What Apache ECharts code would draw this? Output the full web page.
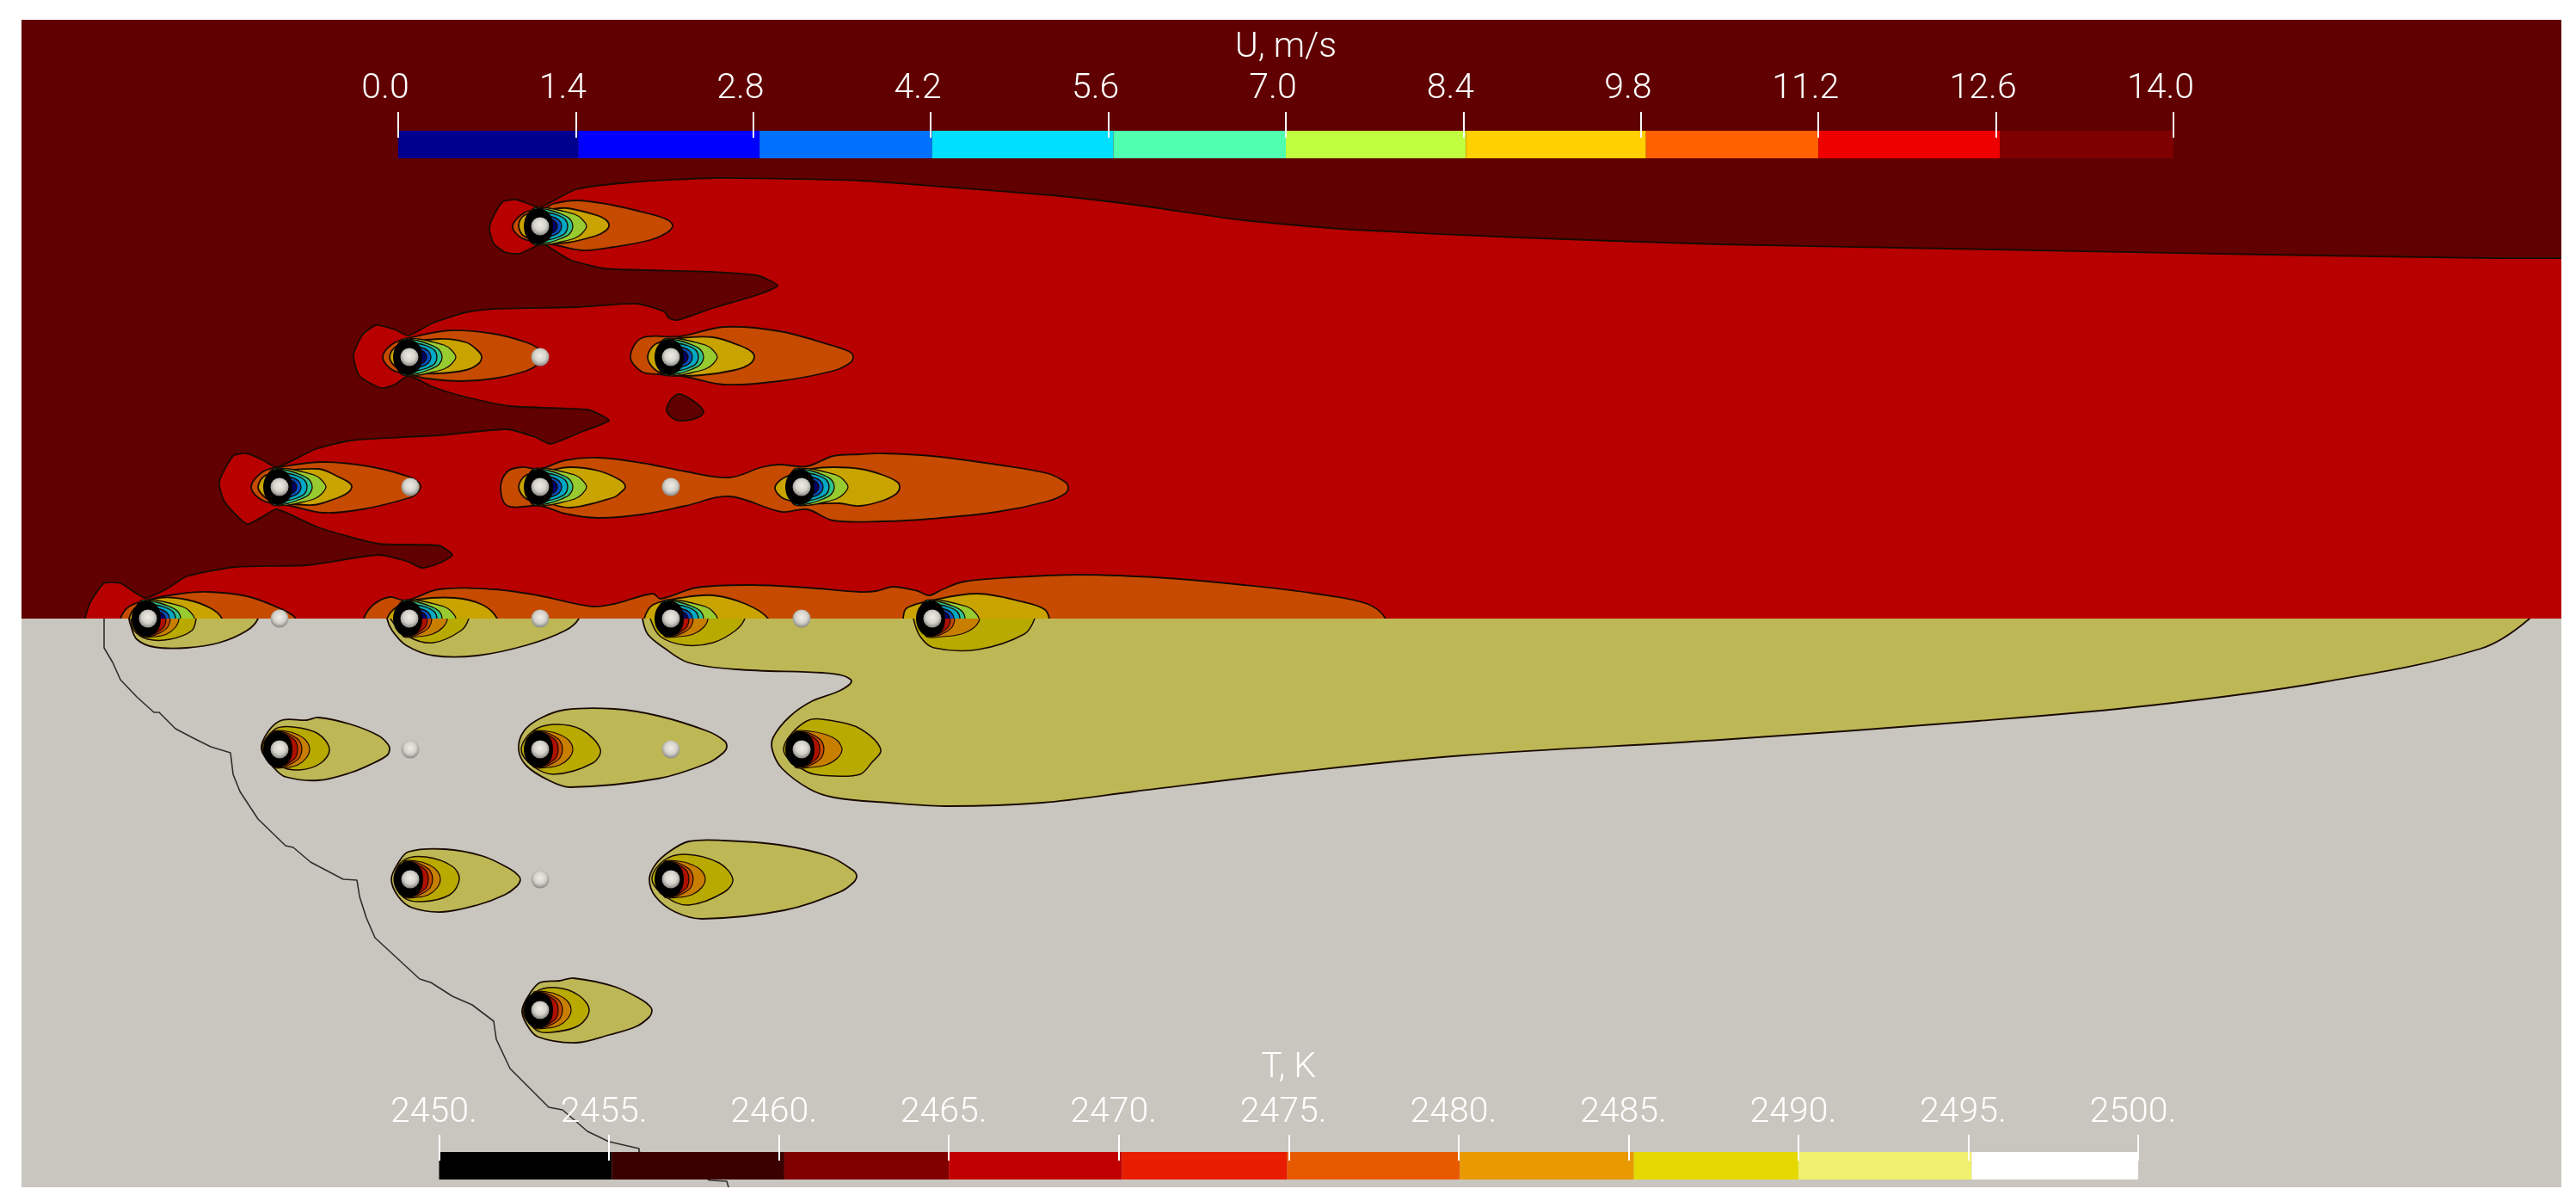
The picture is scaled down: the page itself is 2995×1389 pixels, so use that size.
<!DOCTYPE html>
<html lang="en">
<head>
<meta charset="UTF-8">
<title>U and T contours</title>
<style>html,body{margin:0;background:#fff}#chart{width:2995px;height:1389px}</style>
<script src="https://cdn.jsdelivr.net/npm/echarts@6/dist/echarts.min.js"></script>
</head>
<body>
<div id="chart"></div>
<script>
// colour bars
const uBreaks = [0, 1.42, 2.85, 4.21, 5.64, 7, 8.42, 9.84, 11.2, 12.63, 14];
const uBarColors = ['#00008f', '#0000ff', '#0070ff', '#00dfff', '#50ffaf', '#bfff3f', '#ffcf00', '#ff6000', '#ef0000', '#7f0000'];
const tBreaks = [2450, 2455.08, 2460.16, 2465, 2470.1, 2474.96, 2480.04, 2485.16, 2490, 2495.1, 2500];
const tBarColors = ['#000000', '#3a0000', '#800000', '#c00000', '#e81c00', '#e85a00', '#e89a00', '#e5d800', '#f0f06e', '#ffffff'];

// particle centres
const uSources = [[628, 263], [476, 415], [780, 415], [325, 566], [628, 566], [932, 566], [172, 719], [476, 719], [780, 719], [1084, 719]];
const tSources = [[172, 719], [476, 719], [780, 719], [1084, 719], [325, 871], [628, 871], [932, 871], [477, 1022], [780, 1022], [628, 1174]];
const tOrangeReach = [36, 44, 43, 55, 35, 38, 47, 35, 40, 36];
const coldSpheres = [[628, 415], [477, 566], [780, 566], [325, 719], [628, 719], [932, 719], [477, 871], [780, 871], [628, 1022]];

// U field outlines
const uRed = [[3100, 300], [2990, 300], [2900, 300], [2829, 299], [2638, 296], [2319, 290], [2000, 284], [1765, 276], [1574, 267], [1446, 256], [1319, 238], [1223, 227], [1096, 217], [1000, 210], [829, 207], [733, 212], [670, 220], [628, 241], [615, 237], [600, 232], [584, 235], [571, 257], [569, 267], [574, 283], [587, 293], [603, 295], [615, 290], [631, 283], [638, 287], [663, 302], [702, 312], [753, 314], [829, 316], [880, 320], [904, 332], [880, 343], [829, 358], [788, 372], [778, 370], [772, 362], [740, 353], [670, 357], [574, 359], [542, 363], [504, 375], [475, 390], [459, 383], [437, 378], [421, 390], [411, 413], [418, 437], [443, 451], [459, 447], [475, 437], [504, 450], [536, 460], [593, 472], [682, 476], [698, 482], [708, 489], [676, 502], [640, 516], [622, 508], [590, 499], [510, 506], [408, 512], [367, 522], [322, 543], [306, 535], [287, 527], [271, 530], [255, 560], [261, 583], [287, 609], [306, 600], [322, 592], [370, 613], [440, 632], [510, 634], [526, 645], [510, 655], [491, 660], [472, 652], [440, 645], [357, 657], [274, 659], [217, 670], [198, 682], [169, 695], [140, 678], [121, 678], [105, 700], [99, 719], [99, 735], [3100, 735]];
const uIsland = [[788, 458], [775, 475], [782, 486], [794, 489], [812, 485], [818, 478], [806, 466]];
const uOrange = [
  [[596, 263], [610, 247], [632, 243], [643, 237], [670, 233], [710, 238], [753, 248], [775, 255], [782, 262], [776, 270], [756, 279], [714, 287], [677, 291], [647, 285], [632, 282], [607, 277]],
  [[445, 415], [456, 400], [475, 393], [523, 384], [574, 388], [612, 398], [627, 406], [631, 414], [627, 422], [612, 431], [574, 440], [536, 443], [497, 440], [475, 435], [456, 430]],
  [[733, 415], [746, 393], [791, 391], [842, 380], [906, 385], [969, 402], [988, 409], [992, 415], [988, 422], [969, 431], [906, 443], [842, 447], [797, 438], [765, 435], [746, 432]],
  [[292, 566], [306, 548], [325, 543], [376, 537], [434, 543], [478, 555], [487, 561], [489, 566], [486, 572], [478, 578], [421, 592], [376, 596], [338, 588], [306, 582]],
  [[582, 567], [590, 548], [606, 543], [628, 545], [657, 535], [695, 532], [746, 538], [797, 548], [848, 555], [886, 543], [906, 540], [938, 542], [969, 530], [1000, 528], [1026, 527], [1083, 530], [1159, 540], [1217, 550], [1238, 560], [1242, 567], [1238, 574], [1217, 583], [1159, 595], [1083, 603], [1026, 606], [969, 605], [938, 592], [909, 595], [848, 577], [797, 588], [746, 598], [695, 602], [657, 597], [628, 588], [590, 588]],
  [[140, 735], [140, 719], [150, 705], [172, 697], [210, 690], [242, 688], [287, 693], [325, 707], [344, 719], [344, 735]],
  [[423, 735], [423, 719], [434, 703], [453, 694], [472, 698], [510, 685], [574, 685], [625, 692], [689, 705], [714, 702], [759, 690], [768, 696], [810, 683], [874, 680], [938, 683], [1000, 688], [1019, 687], [1038, 682], [1067, 687], [1080, 692], [1096, 685], [1121, 676], [1179, 671], [1255, 668], [1357, 672], [1446, 680], [1529, 690], [1590, 702], [1611, 719], [1611, 735]]
];
const uYellow = [
  [[603, 262], [610, 250], [643, 243], [660, 242], [693, 250], [705, 256], [708, 263], [703, 269], [693, 274], [660, 282], [640, 282], [610, 275]],
  [[453, 415], [462, 402], [510, 394], [542, 398], [556, 408], [560, 415], [556, 423], [542, 430], [510, 434], [478, 433], [462, 428]],
  [[753, 415], [762, 400], [791, 393], [829, 392], [861, 402], [874, 409], [877, 415], [872, 423], [855, 430], [816, 436], [778, 436], [762, 430]],
  [[300, 566], [310, 552], [370, 545], [395, 555], [406, 561], [409, 566], [404, 573], [389, 580], [364, 587], [319, 583], [308, 578]],
  [[603, 566], [612, 552], [638, 547], [663, 543], [695, 547], [721, 558], [727, 566], [721, 573], [714, 578], [663, 590], [631, 583], [612, 580]],
  [[901, 567], [912, 555], [944, 545], [969, 543], [1000, 545], [1026, 552], [1043, 560], [1046, 567], [1042, 574], [1026, 582], [1000, 588], [976, 585], [944, 585], [912, 580]],
  [[150, 735], [150, 719], [159, 705], [185, 695], [217, 697], [245, 707], [258, 719], [258, 735]],
  [[450, 735], [450, 719], [462, 705], [485, 697], [529, 695], [561, 703], [578, 719], [578, 735]],
  [[749, 735], [749, 719], [759, 703], [791, 695], [829, 692], [867, 702], [893, 719], [893, 735]],
  [[1050, 735], [1050, 719], [1054, 707], [1083, 698], [1137, 690], [1191, 700], [1214, 708], [1220, 719], [1220, 735]]
];
// rings around a particle, offsets from its centre
const uGreenRing = [[54, 0], [48, -9], [40, -14], [25, -18], [10, -21], [-8, -21], [-15, -8], [-15, 8], [-8, 21], [10, 21], [25, 18], [40, 14], [48, 9]];
const uTealRing = [[38, 0], [34, -9], [25, -14], [10, -19], [-8, -20], [-8, 20], [10, 19], [25, 14], [34, 9]];
const uCyanRing = [[32, 0], [29, -8], [20, -13], [8, -16], [0, -16], [0, 16], [8, 16], [20, 13], [29, 8]];
const uBlueRing = [[25, 0], [22, -7], [14, -11], [0, -13], [0, 13], [14, 11], [22, 7]];
const uNavyRing = [[20, 0], [17, -6], [10, -9], [0, -11], [0, 11], [10, 9], [17, 6]];
const haloRing = [[15, 0], [13, -11], [7, -18], [-2, -21], [-11, -18], [-17, -10], [-19, 0], [-17, 10], [-11, 18], [-2, 21], [7, 18], [13, 11]];

// T field outlines
const tFront = [[121, 719], [121, 753], [131, 770], [140, 790], [159, 810], [179, 828], [185, 828], [204, 847], [223, 857], [245, 868], [268, 875], [271, 900], [279, 920], [300, 952], [332, 983], [341, 985], [361, 1002], [380, 1012], [399, 1022], [415, 1023], [418, 1042], [426, 1067], [436, 1090], [488, 1138], [501, 1142], [526, 1158], [549, 1168], [574, 1187], [577, 1208], [593, 1242], [638, 1287], [654, 1290], [683, 1315], [708, 1327], [743, 1335], [743, 1339], [826, 1372], [845, 1373], [847, 1380]];
const tOlive = [
  [[747, 705], [747, 719], [753, 737], [772, 753], [800, 770], [855, 778], [957, 782], [979, 785], [990, 792], [976, 803], [944, 815], [918, 833], [899, 857], [898, 872], [909, 893], [941, 917], [970, 927], [1033, 933], [1104, 937], [1212, 933], [1319, 920], [1510, 897], [1702, 878], [2000, 860], [2300, 838], [2500, 820], [2700, 793], [2884, 754], [2941, 719], [2941, 705]],
  [[300, 705], [300, 719], [287, 733], [255, 747], [217, 753], [179, 752], [159, 743], [152, 727], [150, 719], [150, 705]],
  [[673, 705], [673, 719], [657, 733], [612, 750], [555, 762], [504, 762], [472, 750], [456, 733], [450, 719], [450, 705]],
  [[304, 871], [312, 850], [328, 837], [357, 837], [370, 834], [408, 842], [440, 855], [451, 865], [453, 871], [450, 878], [434, 887], [408, 898], [370, 907], [332, 903], [319, 893]],
  [[603, 871], [609, 850], [628, 835], [657, 825], [714, 824], [765, 832], [823, 850], [842, 861], [845, 868], [841, 875], [823, 887], [765, 905], [663, 915], [638, 907], [612, 890]],
  [[455, 1022], [463, 1003], [475, 990], [517, 987], [561, 995], [593, 1010], [603, 1018], [605, 1023], [601, 1030], [587, 1040], [555, 1052], [514, 1060], [479, 1055], [463, 1042]],
  [[755, 1022], [762, 1005], [778, 990], [801, 978], [842, 977], [906, 982], [963, 995], [991, 1011], [996, 1018], [992, 1026], [976, 1037], [912, 1058], [817, 1068], [785, 1060], [762, 1042]],
  [[607, 1174], [616, 1155], [628, 1142], [651, 1140], [667, 1137], [715, 1147], [746, 1162], [756, 1170], [758, 1175], [755, 1182], [740, 1193], [708, 1203], [670, 1212], [625, 1205], [612, 1190]]
];
const tGold = [
  [[228, 705], [228, 719], [223, 733], [198, 743], [172, 743], [156, 733], [152, 719], [152, 705]],
  [[545, 705], [545, 719], [536, 733], [504, 747], [475, 740], [454, 719], [454, 705]],
  [[866, 705], [866, 719], [855, 733], [829, 747], [797, 750], [768, 740], [756, 719], [756, 705]],
  [[1203, 705], [1203, 719], [1191, 737], [1137, 755], [1086, 753], [1070, 740], [1062, 719], [1062, 705]],
  [[383, 871], [370, 853], [341, 845], [319, 848], [305, 871], [325, 890], [348, 895], [373, 887]],
  [[698, 871], [676, 848], [644, 842], [619, 850], [606, 871], [619, 890], [644, 900], [689, 887]],
  [[1024, 871], [1000, 847], [969, 838], [938, 838], [911, 871], [938, 897], [969, 902], [1000, 900], [1013, 887]],
  [[534, 1022], [526, 1007], [495, 996], [469, 1000], [458, 1022], [469, 1043], [491, 1048], [523, 1040]],
  [[852, 1022], [836, 1003], [797, 993], [772, 1000], [758, 1022], [775, 1043], [801, 1052], [842, 1037]],
  [[685, 1174], [673, 1157], [647, 1148], [623, 1153], [608, 1174], [623, 1197], [640, 1200], [673, 1192]]
];
const tOrangeRing = [[36, 0], [32, -10], [22, -17], [8, -21], [-8, -20], [-8, 20], [8, 21], [22, 18], [32, 10]];
const tRustRing = [[26, 0], [23, -10], [15, -16], [5, -20], [-8, -19], [-8, 19], [5, 20], [15, 16], [23, 10]];
const tRedRing = [[21, 0], [19, -9], [12, -15], [4, -19], [-8, -18], [-8, 18], [4, 19], [12, 15], [19, 9]];

const plotLeft = 25, plotRight = 2978, plotTop = 23, plotSplit = 719, plotBottom = 1380;

function around(c, ring, reach) {
  return ring.map(p => [c[0] + (p[0] > 0 ? p[0] * (reach || 1) : p[0]), c[1] + p[1]]);
}

// painter's order, top half first
let layers = [];
function add(clip, fill, pts, smooth, line) {
  layers.push({ clip, fill, pts, smooth: smooth === undefined ? 0.35 : smooth, line: line === undefined ? 1.8 : line });
}
add('top', '#600000', [[plotLeft, plotTop], [plotRight, plotTop], [plotRight, plotSplit], [plotLeft, plotSplit]], 0, 0);
add('top', '#b80000', uRed, 0.2);
add('top', '#600000', uIsland);
uOrange.forEach(s => add('top', '#c64b00', s));
uYellow.forEach(s => add('top', '#c9a300', s));
uSources.forEach(c => {
  add('top', '#97cb30', around(c, uGreenRing), 0.3, 1.3);
  add('top', '#2fc48e', around(c, uTealRing), 0.3, 1.3);
  add('top', '#00a8c4', around(c, uCyanRing), 0.3, 1.3);
  add('top', '#0050c0', around(c, uBlueRing), 0.3, 1.3);
  add('top', '#00006c', around(c, uNavyRing), 0.3, 1.3);
  add('top', '#000000', around(c, haloRing), 0.3, 0);
});
add('bottom', '#c8c6be', [[plotLeft, plotSplit], [plotRight, plotSplit], [plotRight, plotBottom], [plotLeft, plotBottom]], 0, 0);
tOlive.forEach(s => add('bottom', '#bdb855', s));
tGold.forEach(s => add('bottom', '#b8aa00', s, 0.35, 1.5));
tSources.forEach((c, i) => {
  add('bottom', '#c87f00', around(c, tOrangeRing, tOrangeReach[i] / 36), 0.3, 1.2);
  add('bottom', '#c24a00', around(c, tRustRing), 0.3, 1.2);
  add('bottom', '#b01000', around(c, tRedRing), 0.3, 1.2);
  add('bottom', '#000000', around(c, haloRing), 0.3, 0);
});

function renderLayer(params, api) {
  const l = layers[params.dataIndex];
  const a = api.coord([plotLeft, l.clip === 'top' ? plotTop : plotSplit]);
  const b = api.coord([plotRight, l.clip === 'top' ? plotSplit : plotBottom]);
  return {
    type: 'polygon',
    shape: { points: l.pts.map(p => api.coord(p)), smooth: l.smooth },
    style: { fill: l.fill, stroke: l.line ? '#1a0a00' : null, lineWidth: l.line, lineJoin: 'round' },
    clipPath: { type: 'rect', shape: { x: a[0], y: a[1], width: b[0] - a[0], height: b[1] - a[1] } }
  };
}

function segmentRenderer(colors) {
  return function (params, api) {
    const a = api.coord([api.value(0), 0]);
    const b = api.coord([api.value(1), 1]);
    return {
      type: 'rect',
      shape: { x: a[0], y: b[1], width: b[0] - a[0], height: a[1] - b[1] },
      style: { fill: colors[params.dataIndex] }
    };
  };
}

function segments(breaks, colors) {
  return colors.map((c, i) => [breaks[i], breaks[i + 1]]);
}

const labelFont = { fontFamily: 'Roboto', fontWeight: 300, fontSize: 41, color: '#fff' };

function barAxis(grid, name, min, max, interval, formatter, shift, lift, gap, margin) {
  return {
    gridIndex: grid, type: 'value', position: 'top', min, max, interval, z: 10,
    offset: -lift,
    name, nameLocation: 'center', nameGap: gap, nameTextStyle: labelFont,
    axisLine: { show: false, onZero: false },
    splitLine: { show: false },
    axisTick: { show: true, length: 30, lineStyle: { color: '#fff', width: 2 } },
    axisLabel: Object.assign({ show: true, margin, formatter, padding: [0, shift, 0, 0], hideOverlap: false, showMinLabel: true, showMaxLabel: true }, labelFont)
  };
}

const sphereFill = new echarts.graphic.RadialGradient(0.5, 0.42, 0.6, [
  { offset: 0, color: '#eeece4' },
  { offset: 0.55, color: '#d4d2ca' },
  { offset: 1, color: '#80807c' }
]);

const chart = echarts.init(document.getElementById('chart'));
chart.setOption({
  animation: false,
  backgroundColor: '#fff',
  grid: [
    { left: 0, top: 0, width: 2995, height: 1389 },
    { left: 463, top: 152, width: 2064, height: 32 },
    { left: 510.5, top: 1339, width: 1975.5, height: 32 }
  ],
  xAxis: [
    { gridIndex: 0, type: 'value', min: 0, max: 2995, show: false },
    barAxis(1, 'U, m/s', 0, 14, 1.4, v => v.toFixed(1), 30, 8, 84, 36),
    barAxis(2, 'T, K', 2450, 2500, 5, v => v + '.', 12, 10, 87, 35)
  ],
  yAxis: [
    { gridIndex: 0, type: 'value', min: 0, max: 1389, inverse: true, show: false },
    { gridIndex: 1, type: 'value', min: 0, max: 1, show: false },
    { gridIndex: 2, type: 'value', min: 0, max: 1, show: false }
  ],
  series: [
    { type: 'custom', xAxisIndex: 0, yAxisIndex: 0, z: 1, clip: false, silent: true, renderItem: renderLayer, data: layers.map((l, i) => [i]) },
    { type: 'line', xAxisIndex: 0, yAxisIndex: 0, z: 2, showSymbol: false, silent: true, data: tFront, lineStyle: { color: '#2e2e2c', width: 1.6 } },
    { type: 'scatter', xAxisIndex: 0, yAxisIndex: 0, z: 3, symbolSize: 21, silent: true, data: uSources.concat(tSources.slice(4), coldSpheres), itemStyle: { color: sphereFill, opacity: 1 } },
    { type: 'custom', xAxisIndex: 1, yAxisIndex: 1, z: 4, silent: true, renderItem: segmentRenderer(uBarColors), encode: { x: [0, 1] }, data: segments(uBreaks, uBarColors) },
    { type: 'custom', xAxisIndex: 2, yAxisIndex: 2, z: 4, silent: true, renderItem: segmentRenderer(tBarColors), encode: { x: [0, 1] }, data: segments(tBreaks, tBarColors) }
  ]
});
</script>
</body>
</html>
